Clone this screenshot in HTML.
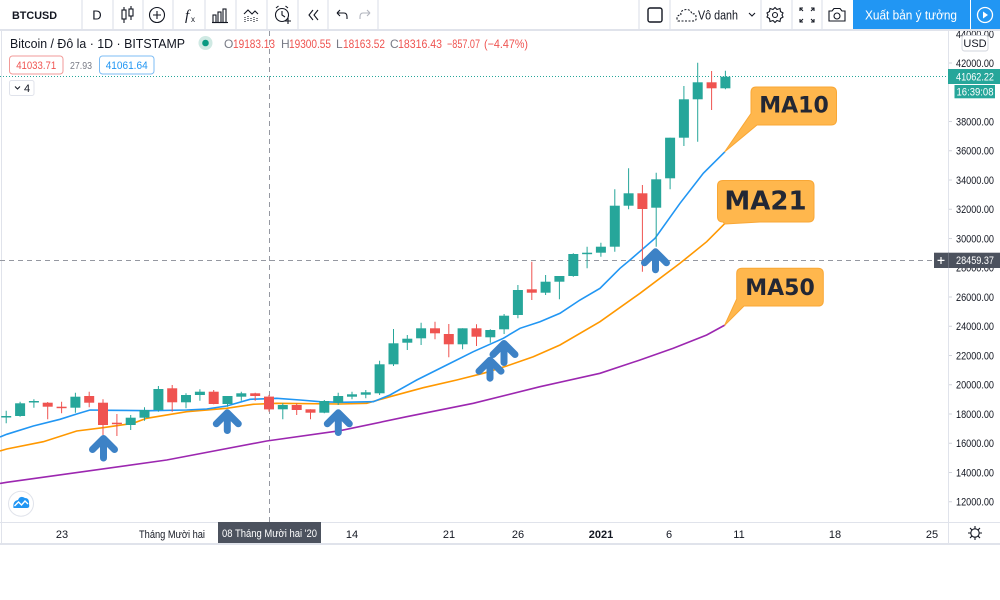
<!DOCTYPE html>
<html><head><meta charset="utf-8"><style>
html,body{margin:0;padding:0;background:#fff;overflow:hidden;width:1000px;height:600px}
svg{display:block}
</style></head><body>
<svg width="1000" height="600" viewBox="0 0 1000 600" xmlns="http://www.w3.org/2000/svg" font-family="'Liberation Sans', 'Noto Sans CJK SC', sans-serif">
<rect x="0" y="0" width="1000" height="600" fill="#fff"/>
<!-- frame lines -->
<line x1="1.5" y1="31" x2="1.5" y2="544" stroke="#e0e3eb"/>
<line x1="948.5" y1="31" x2="948.5" y2="544" stroke="#e0e3eb"/>
<line x1="0" y1="522.5" x2="1000" y2="522.5" stroke="#e0e3eb"/>
<line x1="0" y1="544" x2="1000" y2="544" stroke="#e0e3eb" stroke-width="2"/>

<!-- price axis labels -->
<g font-size="11" fill="#131722">
<text x="956" y="37.8" textLength="38" lengthAdjust="spacingAndGlyphs">44000.00</text>
<text x="956" y="67" textLength="38" lengthAdjust="spacingAndGlyphs">42000.00</text>
<text x="956" y="125.5" textLength="38" lengthAdjust="spacingAndGlyphs">38000.00</text>
<text x="956" y="154.7" textLength="38" lengthAdjust="spacingAndGlyphs">36000.00</text>
<text x="956" y="184" textLength="38" lengthAdjust="spacingAndGlyphs">34000.00</text>
<text x="956" y="213.2" textLength="38" lengthAdjust="spacingAndGlyphs">32000.00</text>
<text x="956" y="242.5" textLength="38" lengthAdjust="spacingAndGlyphs">30000.00</text>
<text x="956" y="271.7" textLength="38" lengthAdjust="spacingAndGlyphs">28000.00</text>
<text x="956" y="301" textLength="38" lengthAdjust="spacingAndGlyphs">26000.00</text>
<text x="956" y="330.2" textLength="38" lengthAdjust="spacingAndGlyphs">24000.00</text>
<text x="956" y="359.5" textLength="38" lengthAdjust="spacingAndGlyphs">22000.00</text>
<text x="956" y="388.7" textLength="38" lengthAdjust="spacingAndGlyphs">20000.00</text>
<text x="956" y="418" textLength="38" lengthAdjust="spacingAndGlyphs">18000.00</text>
<text x="956" y="447.2" textLength="38" lengthAdjust="spacingAndGlyphs">16000.00</text>
<text x="956" y="476.5" textLength="38" lengthAdjust="spacingAndGlyphs">14000.00</text>
<text x="956" y="505.7" textLength="38" lengthAdjust="spacingAndGlyphs">12000.00</text>
</g>
<g stroke="#d1d4dc">
<path d="M949 63H952M949 121.5H952M949 150.7H952M949 180H952M949 209.2H952M949 238.5H952M949 297H952M949 326.2H952M949 355.5H952M949 384.7H952M949 414H952M949 443.2H952M949 472.5H952M949 501.7H952"/>
</g>
<!-- USD box -->
<rect x="962" y="35.5" width="26" height="15.5" rx="2.5" fill="#fff" stroke="#d1d4dc"/>
<text x="975" y="47" font-size="11" fill="#131722" text-anchor="middle">USD</text>

<!-- time axis -->
<g font-size="11" fill="#131722" text-anchor="middle">
<text x="62" y="538">23</text>
<text x="172" y="538" textLength="66" lengthAdjust="spacingAndGlyphs">Tháng Mười hai</text>
<text x="352" y="538">14</text>
<text x="449" y="538">21</text>
<text x="518" y="538">26</text>
<text x="601" y="538" font-weight="bold">2021</text>
<text x="669" y="538">6</text>
<text x="739" y="538">11</text>
<text x="835" y="538">18</text>
<text x="932" y="538">25</text>
</g>
<!-- gear on time axis -->
<g transform="translate(975,533)" stroke="#131722" fill="none" stroke-width="1.1">
<circle r="4.2"/>
<path d="M0-7V-4.5M0 4.5V7M-7 0H-4.5M4.5 0H7M-5-5L-3.2-3.2M3.2 3.2L5 5M-5 5L-3.2 3.2M3.2-3.2L5-5"/>
</g>

<!-- current price dotted line -->
<line x1="0" y1="76.5" x2="948" y2="76.5" stroke="#26a69a" stroke-dasharray="1 2"/>
<!-- crosshair -->
<line x1="269.5" y1="31" x2="269.5" y2="522" stroke="#9598a1" stroke-dasharray="5 4"/>
<line x1="0" y1="260.5" x2="934" y2="260.5" stroke="#9598a1" stroke-dasharray="5 4"/>

<!-- MA lines -->
<polyline fill="none" stroke="#9c27b0" stroke-width="1.6" points="0,483.5 6.7,482.3 166.7,460 266.7,441 340,430.7 406.7,416.7 473.3,403.3 540,386.7 600,373.3 640,360 673.3,348.3 706.7,335 725,325"/>
<polyline fill="none" stroke="#ff9800" stroke-width="1.6" points="0,451 6.7,449 43.3,441.7 76.7,431 103,427.7 133,423.3 146.7,418.3 186.7,411.7 226.7,408.3 253,404.3 276.7,403.3 340,404 366.7,403.3 390,396.7 423.3,387.7 456.7,380 483.3,373.3 506.7,366 533.3,356.7 560,345 600,321.7 640,293.3 680,263.3 706.7,241.7 725,223.3"/>
<polyline fill="none" stroke="#2196f3" stroke-width="1.6" points="0,437 6.7,434.3 33.3,426 60,419.3 76.7,414 90,410 110,410.3 150,410.7 186.7,410 206.7,409 226.7,406 250,399.3 276.7,398.3 300,400 320,401.7 340,402.3 373.3,401.7 390,395 416.7,380 446.7,365 473.3,351.7 503.3,338.3 520,328.3 540,321.7 560,313.3 580,300 600,288.3 620,268.3 630,260 655,238.3 680,203.3 703.3,173.3 725,151.7"/>

<!-- wicks -->
<path stroke="#26a69a" stroke-width="1" fill="none" d="M6.2 410.7V423.3M20.1 401.7V416.7M33.9 399.3V407.7M75.4 392.7V412.7M130.7 415V430M144.5 407.3V420.7M158.4 386V411.7M186 393.3V408.3M199.9 389.3V400.7M227.5 396V406.7M241.3 391.7V400.7M282.8 403.3V419.3M324.3 400V413.3M338.2 392.7V405M352 391.7V399.3M365.8 390V398.3M379.6 360.7V395M393.5 329V366M407.3 335V350M421.1 322.7V345M462.6 328.3V349.3M490.3 329.3V342.7M504.1 314V334M517.9 285V318.3M545.6 275V295M559.4 276V299.3M573.3 253.3V276.7M587.1 246.7V268.3M600.9 242.7V256.7M614.8 189.3V251.7M628.6 168.3V209.3M656.2 172.7V246.7M670.1 137.7V189.3M683.9 86V146M697.7 62.7V141.7M725.4 70.7V89.3"/>
<path stroke="#ef5350" stroke-width="1" fill="none" d="M47.7 402V419.3M61.6 401.7V413.3M89.2 391.7V407.3M103 399.3V435M116.9 414V436M172.2 385V411.7M213.7 390V404.3M255.2 392.7V400.7M269 394.9V411.6M296.7 403.3V415M310.5 409.3V419.3M435 321.7V339.3M448.8 324V357.3M476.5 324.3V346M531.8 261.7V300M642.4 185V271.7M711.6 71V110"/>
<!-- bodies green -->
<g fill="#26a69a">
<rect x="1.2" y="416" width="10" height="1.5"/>
<rect x="15.1" y="403.3" width="10" height="12.7"/>
<rect x="28.9" y="401" width="10" height="1.5"/>
<rect x="70.4" y="396.7" width="10" height="11"/>
<rect x="125.7" y="417.7" width="10" height="7.3"/>
<rect x="139.5" y="410" width="10" height="7.7"/>
<rect x="153.4" y="389" width="10" height="21"/>
<rect x="181" y="395" width="10" height="7.3"/>
<rect x="194.9" y="391.7" width="10" height="3.3"/>
<rect x="222.5" y="396" width="10" height="8"/>
<rect x="236.3" y="393.3" width="10" height="3.4"/>
<rect x="277.8" y="405" width="10" height="4.3"/>
<rect x="319.3" y="401" width="10" height="11.7"/>
<rect x="333.2" y="396" width="10" height="6.7"/>
<rect x="347" y="394.3" width="10" height="2.4"/>
<rect x="360.8" y="392.3" width="10" height="2.4"/>
<rect x="374.6" y="364.3" width="10" height="29"/>
<rect x="388.5" y="343.3" width="10" height="21"/>
<rect x="402.3" y="338.7" width="10" height="4"/>
<rect x="416.1" y="328.3" width="10" height="10"/>
<rect x="457.6" y="328.3" width="10" height="16"/>
<rect x="485.3" y="330" width="10" height="7.3"/>
<rect x="499.1" y="315.7" width="10" height="13.6"/>
<rect x="512.9" y="290" width="10" height="25"/>
<rect x="540.6" y="281.7" width="10" height="11"/>
<rect x="554.4" y="276" width="10" height="5.7"/>
<rect x="568.3" y="254" width="10" height="22"/>
<rect x="582.1" y="252.7" width="10" height="1.5"/>
<rect x="595.9" y="246.7" width="10" height="6"/>
<rect x="609.8" y="205.7" width="10" height="41"/>
<rect x="623.6" y="193.3" width="10" height="12.4"/>
<rect x="651.2" y="179.3" width="10" height="28.4"/>
<rect x="665.1" y="137.7" width="10" height="40.6"/>
<rect x="678.9" y="99.3" width="10" height="38.4"/>
<rect x="692.7" y="82.3" width="10" height="17"/>
<rect x="720.4" y="76.7" width="10" height="11.6"/>
</g>
<!-- bodies red -->
<g fill="#ef5350">
<rect x="42.7" y="402.7" width="10" height="4"/>
<rect x="56.6" y="406.7" width="10" height="1.5"/>
<rect x="84.2" y="396" width="10" height="6.7"/>
<rect x="98" y="402.7" width="10" height="22.3"/>
<rect x="111.9" y="422.7" width="10" height="1.5"/>
<rect x="167.2" y="388.3" width="10" height="14"/>
<rect x="208.7" y="391.7" width="10" height="12.3"/>
<rect x="250.2" y="393.3" width="10" height="2.7"/>
<rect x="264" y="396.6" width="10" height="12.8"/>
<rect x="291.7" y="405" width="10" height="5"/>
<rect x="305.5" y="409.3" width="10" height="3.4"/>
<rect x="430" y="328.3" width="10" height="5"/>
<rect x="443.8" y="334" width="10" height="10.3"/>
<rect x="471.5" y="328.3" width="10" height="8.4"/>
<rect x="526.8" y="289.3" width="10" height="3.4"/>
<rect x="637.4" y="193.3" width="10" height="15.7"/>
<rect x="706.6" y="82.3" width="10" height="6"/>
</g>

<!-- blue arrows -->
<g stroke="#3d82c6" stroke-width="7" stroke-linecap="round" stroke-linejoin="round" fill="none">
<path d="M92.5 449.5L103.5 438.5L114.5 449.5M103.5 439V458"/>
<path d="M216.3 423.8L227.3 412.8L238.3 423.8M227.3 413.3V430.5"/>
<path d="M327.3 423.8L338.3 412.8L349.3 423.8M338.3 413.3V432.5"/>
<path d="M493 354.5L504 343.5L515 354.5M504 344V362.5"/>
<path d="M479 371.2L490 360.2L501 371.2M490 360.7V378.2"/>
<path d="M644.5 262.8L655.5 251.8L666.5 262.8M655.5 252.3V269.8"/>
</g>

<!-- callouts -->
<g fill="#ffb74d" stroke="#f9a735" stroke-width="1">
<path d="M756 87 H831 Q836.5 87 836.5 92.5 V119.5 Q836.5 125 831 125 H757 L724.5 152 L751 113.5 V92.5 Q751 87 756 87 Z"/>
<path d="M723 180.5 H808.5 Q814 180.5 814 186 V216.5 Q814 222 808.5 222 H760 L725 224 L723 222 Q717.5 222 717.5 216.5 V186 Q717.5 180.5 723 180.5 Z"/>
<path d="M742 268.3 H818 Q823.3 268.3 823.3 273.6 V300.7 Q823.3 306 818 306 H744 L724.5 325.5 L736.7 299 V273.6 Q736.7 268.3 742 268.3 Z"/>
</g>
<g font-family="'DejaVu Sans', sans-serif" font-weight="bold" fill="#232734" text-anchor="middle">
<text x="794" y="112.7" font-size="22">MA10</text>
<text x="765.5" y="209.3" font-size="26">MA21</text>
<text x="780" y="295" font-size="22">MA50</text>
</g>

<!-- price axis tags -->
<rect x="948" y="69" width="52" height="15" fill="#26a69a"/>
<text x="956" y="80.5" font-size="11" fill="#fff" textLength="38" lengthAdjust="spacingAndGlyphs">41062.22</text>
<rect x="954.5" y="85" width="40.5" height="13.3" fill="#26a69a"/>
<text x="956.5" y="95.5" font-size="11" fill="#fff" textLength="37" lengthAdjust="spacingAndGlyphs">16:39:08</text>
<rect x="934" y="252.7" width="66" height="15.3" fill="#4c525e"/>
<path d="M937.5 260.4H944.5M941 257V264" stroke="#fff" stroke-width="1.2"/>
<line x1="948.5" y1="252.7" x2="948.5" y2="268" stroke="#6a6f7b"/>
<text x="956" y="264.2" font-size="11" fill="#fff" textLength="38" lengthAdjust="spacingAndGlyphs">28459.37</text>

<!-- time tooltip -->
<rect x="218" y="522" width="103" height="21" fill="#4c525e"/>
<text x="269.5" y="537" font-size="11" fill="#fff" text-anchor="middle" textLength="95" lengthAdjust="spacingAndGlyphs">08 Tháng Mười hai '20</text>

<!-- logo -->
<circle cx="21" cy="503.7" r="12.5" fill="#fff" stroke="#e0e3eb"/>
<path d="M13.5 508 Q12.5 501 18 500 Q20 495 25 498 Q29.5 498 29 504 Q30 508 27 508 Z" fill="#2196f3"/>
<path d="M14.5 506 L18.5 502 L21.5 505 L25 501 L28 504" stroke="#fff" stroke-width="1.4" fill="none"/>

<!-- legend -->
<text x="10" y="48" font-size="13" fill="#131722" textLength="175" lengthAdjust="spacingAndGlyphs">Bitcoin / Đô la · 1D · BITSTAMP</text>
<circle cx="205.5" cy="43" r="7" fill="#cfe9e3"/>
<circle cx="205.5" cy="43" r="3.3" fill="#089981"/>
<g font-size="12">
<text x="224" y="48" fill="#787b86">O</text>
<text x="233" y="48" fill="#ef5350" textLength="42" lengthAdjust="spacingAndGlyphs">19183.13</text>
<text x="281" y="48" fill="#787b86">H</text>
<text x="289" y="48" fill="#ef5350" textLength="42" lengthAdjust="spacingAndGlyphs">19300.55</text>
<text x="336" y="48" fill="#787b86">L</text>
<text x="343" y="48" fill="#ef5350" textLength="42" lengthAdjust="spacingAndGlyphs">18163.52</text>
<text x="390" y="48" fill="#787b86">C</text>
<text x="398" y="48" fill="#ef5350" textLength="44" lengthAdjust="spacingAndGlyphs">18316.43</text>
<text x="447" y="48" fill="#ef5350" textLength="33" lengthAdjust="spacingAndGlyphs">−857.07</text>
<text x="484" y="48" fill="#ef5350" textLength="44" lengthAdjust="spacingAndGlyphs">(−4.47%)</text>
</g>
<rect x="9.5" y="56" width="53.5" height="18" rx="3" fill="#fff" stroke="#f29a98"/>
<text x="36.2" y="69" font-size="11" fill="#ef5350" text-anchor="middle" textLength="40" lengthAdjust="spacingAndGlyphs">41033.71</text>
<text x="70" y="69" font-size="10" fill="#787b86" textLength="22" lengthAdjust="spacingAndGlyphs">27.93</text>
<rect x="99.5" y="56" width="54.5" height="18" rx="3" fill="#fff" stroke="#7cbcf4"/>
<text x="126.7" y="69" font-size="11" fill="#2196f3" text-anchor="middle" textLength="42" lengthAdjust="spacingAndGlyphs">41061.64</text>
<rect x="9.5" y="80.5" width="24.5" height="15" rx="2" fill="#fff" stroke="#e0e3eb"/>
<path d="M15 86.5L17.5 89L20 86.5" stroke="#131722" fill="none" stroke-width="1"/>
<text x="24" y="92" font-size="11" fill="#131722">4</text>

<!-- toolbar -->
<rect x="0" y="0" width="1000" height="30" fill="#fff"/>
<line x1="0" y1="30" x2="1000" y2="30" stroke="#e0e3eb" stroke-width="2"/>
<g stroke="#e0e3eb" stroke-width="1.2">
<path d="M82 0V30M113 0V30M143 0V30M173 0V30M205 0V30M236 0V30M267 0V30M298 0V30M328 0V30M378 0V30M639 0V30M670 0V30M761 0V30M792 0V30M822 0V30"/>
</g>
<text x="12" y="19" font-size="11" font-weight="bold" fill="#131722" textLength="45" lengthAdjust="spacingAndGlyphs">BTCUSD</text>
<text x="97" y="19.5" font-size="13" fill="#131722" text-anchor="middle">D</text>
<g stroke="#131722" stroke-width="1.1" fill="none">
<!-- candles -->
<path d="M124 7V23M131 6V20"/>
<rect x="122" y="10" width="4" height="9" fill="#fff"/>
<rect x="129" y="9" width="4" height="7" fill="#fff"/>
<!-- plus circle -->
<circle cx="157" cy="15" r="7.5"/>
<path d="M153 15H161M157 11V19"/>
<!-- bars -->
<path d="M212 22.5H228"/>
<rect x="213" y="15" width="3" height="7.5"/>
<rect x="218" y="12" width="3" height="10.5"/>
<rect x="223" y="9" width="3" height="13.5"/>
<!-- indicators -->
<path d="M244 14L248 10L252 14L255 11L258 14"/>
<path d="M245 17V22M248 16V22M251 18V22M254 17V22M257 18V22" stroke-dasharray="1 1"/>
<!-- alarm -->
<circle cx="282" cy="15" r="6.5"/>
<path d="M282 11V15L285 17M276 8L278.5 6M288 8L285.5 6M285 21H291M288 18V24"/>
<!-- rewind -->
<path d="M313 10L309 15L313 20M318 10L314 15L318 20"/>
<!-- undo -->
<path d="M337 13H344Q347 13 347 17V19M337 13L340 10M337 13L340 16"/>
<!-- square -->
<rect x="648" y="8" width="14" height="14" rx="2" stroke-width="1.4"/>
<!-- cloud -->
<path d="M678 21H693Q697 21 696 17Q696 13 692 14Q690 8 684 10Q680 11 681 15Q677 15 677 18Q677 21 678 21Z" stroke-dasharray="2 1.5"/>
<!-- chevron -->
<path d="M749 13L752 16L755 13"/>
<!-- gear -->
<circle cx="775" cy="15" r="2.5"/>
<path d="M775 7.5L777 9.5L780 8.5L780.5 11.5L783 13L782 15L783 17L780.5 18.5L780 21.5L777 20.5L775 22.5L773 20.5L770 21.5L769.5 18.5L767 17L768 15L767 13L769.5 11.5L770 8.5L773 9.5Z"/>
<!-- fullscreen -->
<path d="M800 11V8H803M800 8L803 11M814 11V8H811M814 8L811 11M800 19V22H803M800 22L803 19M814 19V22H811M814 22L811 19"/>
<!-- camera -->
<path d="M829 11H832L834 8.5H840L842 11H845V21H829Z"/>
<circle cx="837" cy="16" r="3"/>
</g>
<path d="M370 13H363Q360 13 360 17V19M370 13L367 10M370 13L367 16" stroke="#b2b5be" stroke-width="1.1" fill="none"/>
<text x="185" y="20" font-size="15" font-style="italic" font-family="'Liberation Serif', serif" fill="#131722">f</text>
<text x="191" y="22" font-size="8" fill="#131722">x</text>
<text x="698" y="19.5" font-size="13" fill="#131722" textLength="40" lengthAdjust="spacingAndGlyphs">Vô danh</text>
<!-- publish button -->
<rect x="853" y="0" width="117" height="29" fill="#2196f3"/>
<text x="911" y="19.5" font-size="13" fill="#fff" text-anchor="middle" textLength="92" lengthAdjust="spacingAndGlyphs">Xuất bản ý tưởng</text>
<rect x="971" y="0" width="29" height="29" fill="#2196f3"/>
<circle cx="985" cy="15" r="7.5" stroke="#fff" stroke-width="1.3" fill="none"/>
<path d="M983 11.5L988 15L983 18.5Z" fill="#fff"/>
</svg>
</body></html>
